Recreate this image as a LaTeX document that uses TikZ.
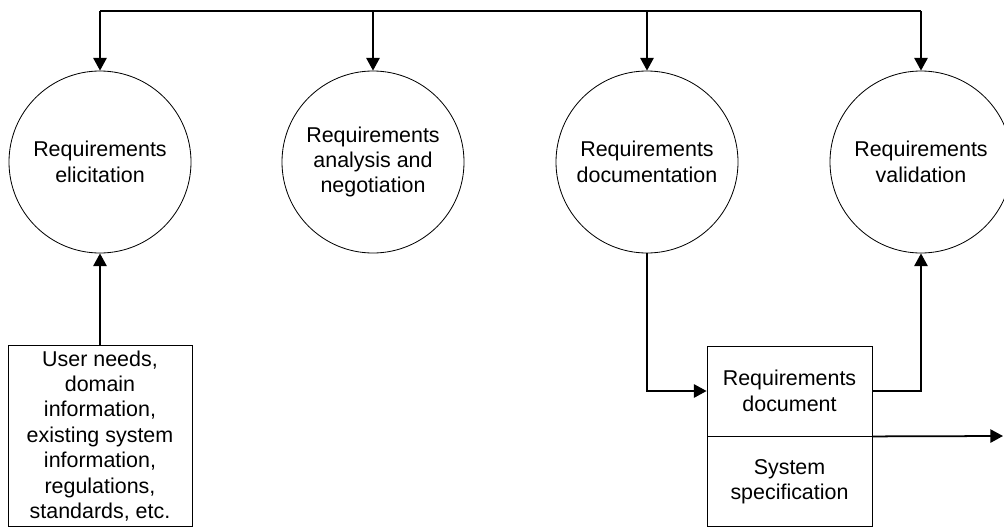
\documentclass[tikz,border=0pt]{standalone}
\usepackage{fontspec}
\setmainfont{Liberation Sans}
\usetikzlibrary{arrows.meta,positioning}

\tikzset{
   proc/.style={draw,circle,line width=0.7pt,minimum size=5.46cm,inner sep=0pt,
      align=center,font=\fontsize{18.3}{21.7}\selectfont},
   docbox/.style={draw,rectangle,line width=0.7pt,inner sep=0pt,
      align=center,font=\fontsize{18.3}{21.7}\selectfont},
   wire/.style={line width=1.5pt},
   flow/.style={wire,-{Triangle[length=0.38cm,width=0.4cm]}}
}

\begin{document}
\begin{tikzpicture}[x=0.03cm,y=-0.03cm]
   \useasboundingbox (0,0) rectangle (1004,527);

   \node[proc] (elicit)   at (100,162) {Requirements\\elicitation};
   \node[proc] (analysis) at (373,162) {Requirements\\analysis and\\negotiation};
   \node[proc] (docu)     at (647,162) {Requirements\\documentation};
   \node[proc] (valid)    at (921,162) {Requirements\\validation};

   \node[docbox,minimum width=5.52cm,minimum height=5.43cm] (needs) at (100,436)
      {User needs,\\domain\\information,\\existing system\\information,\\regulations,\\standards, etc.};
   \node[docbox,minimum width=4.95cm,minimum height=2.7cm] (reqdoc) at (789.5,391)
      {Requirements\\document};
   \node[docbox,minimum width=4.95cm,minimum height=2.7cm,below=0pt of reqdoc] (sysspec)
      {System\\specification};

   \coordinate (busL) at (100,11);
   \coordinate (busR) at (921,11);
   \coordinate (out)  at (1003,436);

   \draw[wire] (busL) -- (busR);
   \foreach \p in {elicit,analysis,docu,valid}
      \draw[flow] (\p.north |- busL) -- (\p.north);

   \draw[flow] (needs) -- (elicit);
   \draw[flow] (docu.south) |- (reqdoc.west);
   \draw[flow] (reqdoc.east) -| (valid.south);
   \draw[flow] (reqdoc.south east) -- (out);
\end{tikzpicture}
\end{document}
